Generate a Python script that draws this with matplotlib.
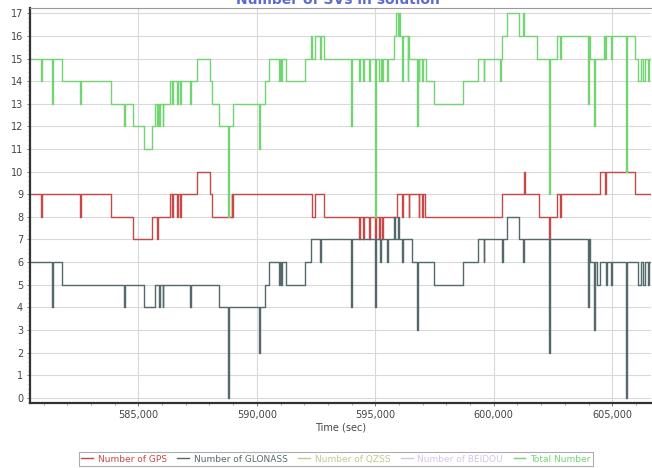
import matplotlib
matplotlib.use("Agg")
import matplotlib.pyplot as plt
from matplotlib.ticker import MultipleLocator, StrMethodFormatter

# Step data: time (sec) where the value changes, and the new value
gps_t = [580430, 580891, 580921, 582538, 582568, 583834, 584789, 585591, 585802, 585832,
         586339, 586420, 586450, 586622, 586652, 586761, 586791, 587466, 588028, 588125,
         588940, 588970, 589012, 592323, 592462, 592842, 594333, 594363, 594476, 594506,
         594755, 594785, 594996, 595026, 595177, 595207, 595279, 595309, 595912, 596123,
         596153, 596402, 596432, 596824, 596854, 596968, 596998, 597107, 597150, 600346,
         601288, 601318, 601892, 602331, 602361, 602669, 602808, 602838, 604498, 604708,
         604738, 605976, 606700]
gps_v = [9, 8, 9, 8, 9, 8, 7, 8, 7, 8,
         9, 8, 9, 8, 9, 8, 9, 10, 9, 8,
         9, 8, 9, 8, 9, 8, 7, 8, 7, 8,
         7, 8, 7, 8, 7, 8, 7, 8, 9, 8,
         9, 8, 9, 8, 9, 8, 9, 8, 8, 9,
         10, 9, 8, 7, 8, 9, 8, 9, 10, 9,
         10, 9, 9]

glonass_t = [580430, 581368, 581398, 581791, 584409, 584439, 585241, 585705, 585887, 585917,
             586030, 586060, 587183, 587213, 588421, 588801, 588831, 590084, 590114, 590350,
             590532, 590954, 590984, 591014, 591044, 591237, 592040, 592280, 592673, 592703,
             593982, 594012, 594996, 595026, 595207, 595237, 595489, 595519, 595790, 595820,
             595950, 595980, 596123, 596153, 596546, 596757, 596787, 597458, 598699, 599345,
             599570, 599600, 600346, 600376, 600558, 601047, 601233, 601263, 602331, 602361,
             603974, 604004, 604046, 604244, 604274, 604358, 604498, 604750, 604780, 604960,
             604990, 605595, 605625, 606102, 606200, 606300, 606400, 606500, 606540, 606700]
glonass_v = [6, 4, 6, 5, 4, 5, 4, 5, 4, 5,
             4, 5, 4, 5, 4, 0, 4, 2, 4, 5,
             6, 5, 6, 5, 6, 5, 6, 7, 6, 7,
             4, 7, 4, 7, 6, 7, 6, 7, 8, 7,
             8, 7, 6, 7, 6, 3, 6, 5, 6, 7,
             6, 7, 6, 7, 8, 7, 6, 7, 2, 7,
             4, 7, 6, 3, 6, 5, 6, 5, 6, 5,
             6, 0, 6, 5, 6, 5, 6, 5, 6, 6]

total_t = [580430, 580891, 580921, 581368, 581398, 581791, 582538, 582568, 583834, 584409,
           584439, 584789, 585241, 585591, 585705, 585802, 585832, 585887, 585917, 586030,
           586060, 586339, 586420, 586450, 586622, 586652, 586761, 586791, 587183, 587213,
           587466, 588028, 588125, 588421, 588801, 588831, 589012, 590084, 590114, 590350,
           590532, 590954, 590984, 591014, 591044, 591237, 592040, 592280, 592323, 592462,
           592673, 592703, 592842, 593982, 594012, 594333, 594363, 594476, 594506, 594755,
           594785, 594996, 595026, 595177, 595237, 595279, 595309, 595489, 595519, 595769,
           595883, 595940, 596009, 596040, 596123, 596153, 596360, 596390, 596420, 596757,
           596787, 596824, 596854, 596968, 596998, 597150, 597458, 598699, 599345, 599570,
           599600, 600275, 600305, 600346, 600558, 601047, 601233, 601263, 601824, 602331,
           602361, 602669, 602808, 602838, 603974, 604004, 604046, 604244, 604274, 604637,
           604708, 604738, 604960, 604990, 605595, 605625, 605976, 606102, 606200, 606300,
           606400, 606500, 606540, 606700]
total_v = [15, 14, 15, 13, 15, 14, 13, 14, 13, 12,
           13, 12, 11, 12, 13, 12, 13, 12, 13, 12,
           13, 14, 13, 14, 13, 14, 13, 14, 13, 14,
           15, 14, 13, 12, 8, 12, 13, 11, 13, 14,
           15, 14, 15, 14, 15, 14, 15, 16, 15, 16,
           15, 16, 15, 12, 15, 14, 15, 14, 15, 14,
           15, 8, 15, 14, 15, 14, 15, 14, 15, 16,
           17, 16, 17, 16, 14, 16, 14, 16, 15, 12,
           15, 14, 15, 14, 15, 14, 13, 14, 15, 14,
           15, 14, 15, 16, 17, 16, 17, 16, 15, 9,
           15, 16, 15, 16, 13, 16, 15, 12, 15, 16,
           15, 16, 15, 16, 10, 16, 15, 14, 15, 14,
           15, 14, 15, 15]

# QZSS and BEIDOU have no samples, they only appear in the legend
qzss_t, qzss_v = [], []
beidou_t, beidou_v = [], []

labels = ["Number of GPS", "Number of GLONASS", "Number of QZSS", "Number of BEIDOU", "Total Number"]
colors = ["#c84848", "#55686b", "#bccb8c", "#d6c3e8", "#72d472"]

fig = plt.figure(figsize=(6.52, 4.68), dpi=100)
ax = fig.add_axes([0.046, 0.1395, 0.953, 0.8435])

series = [(gps_t, gps_v), (glonass_t, glonass_v), (qzss_t, qzss_v), (beidou_t, beidou_v), (total_t, total_v)]
for (t, v), lab, col in zip(series, labels, colors):
    ax.plot(t, v, drawstyle="steps-post", color=col, lw=1.0, label=lab)

ax.set_xlim(580426, 606651)
ax.set_ylim(-0.22, 17.24)

# ticks and grid
ax.xaxis.set_major_locator(MultipleLocator(5000))
ax.xaxis.set_minor_locator(MultipleLocator(1000))
ax.xaxis.set_major_formatter(StrMethodFormatter("{x:,.0f}"))
ax.yaxis.set_major_locator(MultipleLocator(1))
ax.yaxis.set_minor_locator(MultipleLocator(0.2))
ax.tick_params(axis="both", which="major", labelsize=7, labelcolor="#444444",
               color="#666666", length=2, width=0.6, pad=3)
ax.tick_params(axis="both", which="minor", color="#888888", length=1.5, width=0.5)
ax.grid(True, which="major", color="#d9d9d9", lw=0.8)
ax.set_axisbelow(True)

for side in ["left", "bottom"]:
    ax.spines[side].set_color("#333333")
    ax.spines[side].set_linewidth(1.6)
ax.spines["top"].set_color("#999999")
ax.spines["top"].set_linewidth(0.8)
ax.spines["right"].set_visible(False)

ax.set_xlabel("Time (sec)", fontsize=7, color="#444444", labelpad=2)

# title is cut off at the top of the image
fig.text(0.518, 1 - 4 / 468, "Number of SVs in solution", ha="center", va="baseline",
         fontsize=10, fontweight="bold", color="#5b6bd0")

leg = fig.legend(loc="center", bbox_to_anchor=(0.515, 0.019), ncol=5, fontsize=6.5,
                 frameon=True, fancybox=False, edgecolor="#999999", handlelength=1.3,
                 handletextpad=0.5, columnspacing=1.2, borderpad=0.3, labelcolor=colors)
leg.get_frame().set_linewidth(0.8)

plt.savefig("out.png", dpi=100)
plt.close(fig)
